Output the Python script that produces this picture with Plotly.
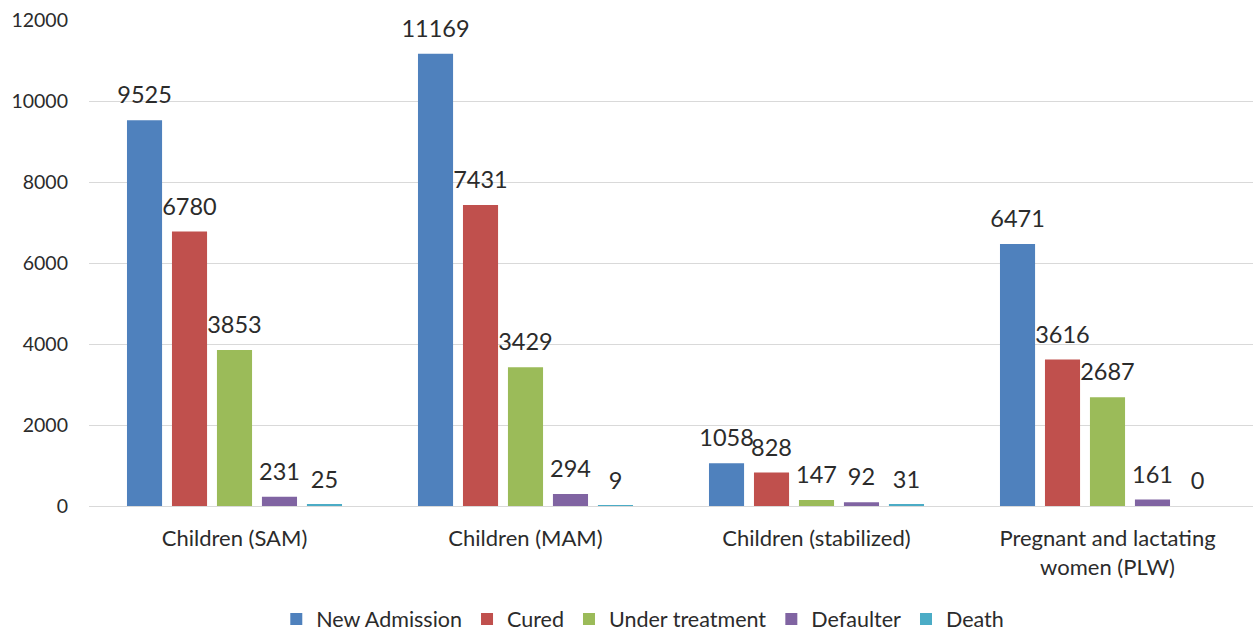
import plotly.graph_objects as go

# Nutrition programme outcomes by beneficiary group
categories = [
    "Children (SAM)",
    "Children (MAM)",
    "Children (stabilized)",
    "Pregnant and lactating<br>women (PLW)",
]
series_names = ["New Admission", "Cured", "Under treatment", "Defaulter", "Death"]
new_admission = [9525, 11169, 1058, 6471]
cured = [6780, 7431, 828, 3616]
under_treatment = [3853, 3429, 147, 2687]
defaulter = [231, 294, 92, 161]
death = [25, 9, 31, 0]

y_ticks = [0, 2000, 4000, 6000, 8000, 10000, 12000]

series_values = [new_admission, cured, under_treatment, defaulter, death]
colors = ["#4F81BD", "#C0504D", "#9BBB59", "#8064A2", "#4BACC6"]

FONT = "Lato, 'Open Sans', sans-serif"
TEXT_COLOR = "#2B2B2B"
GAP = 0.227

fig = go.Figure()

for name, vals, color in zip(series_names, series_values, colors):
    fig.add_trace(go.Bar(
        x=categories, y=vals, name=name,
        marker=dict(color=color, line=dict(width=0)),
        offsetgroup=name,
        hoverinfo="x+y+name",
    ))

# value labels, grouped so each one sits above its own bar
for name, vals in zip(series_names, series_values):
    fig.add_trace(go.Scatter(
        x=categories, y=vals,
        mode="markers+text",
        text=[str(v) for v in vals],
        textposition="top center",
        textfont=dict(family=FONT, size=23.5, color=TEXT_COLOR),
        marker=dict(size=16, opacity=0),
        offsetgroup=name,
        showlegend=False,
        hoverinfo="skip",
        cliponaxis=False,
    ))

fig.update_layout(
    width=1253, height=633,
    margin=dict(l=89, r=0, t=20, b=127),
    paper_bgcolor="white",
    plot_bgcolor="white",
    barmode="group",
    bargap=GAP,
    bargroupgap=0.22,
    scattermode="group",
    scattergap=GAP,
    font=dict(family=FONT, color=TEXT_COLOR),
    showlegend=True,
    legend=dict(
        orientation="h",
        xref="container", x=0.513, xanchor="center",
        yref="container", y=0.022, yanchor="middle",
        font=dict(family=FONT, size=21.5, color=TEXT_COLOR),
        itemwidth=30,
        traceorder="normal",
    ),
    xaxis=dict(
        showgrid=False, showline=False, zeroline=False,
        ticks="",
        tickfont=dict(family=FONT, size=22, color=TEXT_COLOR),
        ticklabelstandoff=17,
    ),
    yaxis=dict(
        range=[0, 12000],
        tickvals=y_ticks,
        ticktext=[str(v) for v in y_ticks],
        showgrid=True, gridcolor="#D9D9D9", gridwidth=1,
        zeroline=True, zerolinecolor="#D9D9D9", zerolinewidth=1,
        showline=False, ticks="",
        tickfont=dict(family=FONT, size=19.5, color=TEXT_COLOR),
        ticklabelstandoff=20,
    ),
)

fig.write_html("out.html")
